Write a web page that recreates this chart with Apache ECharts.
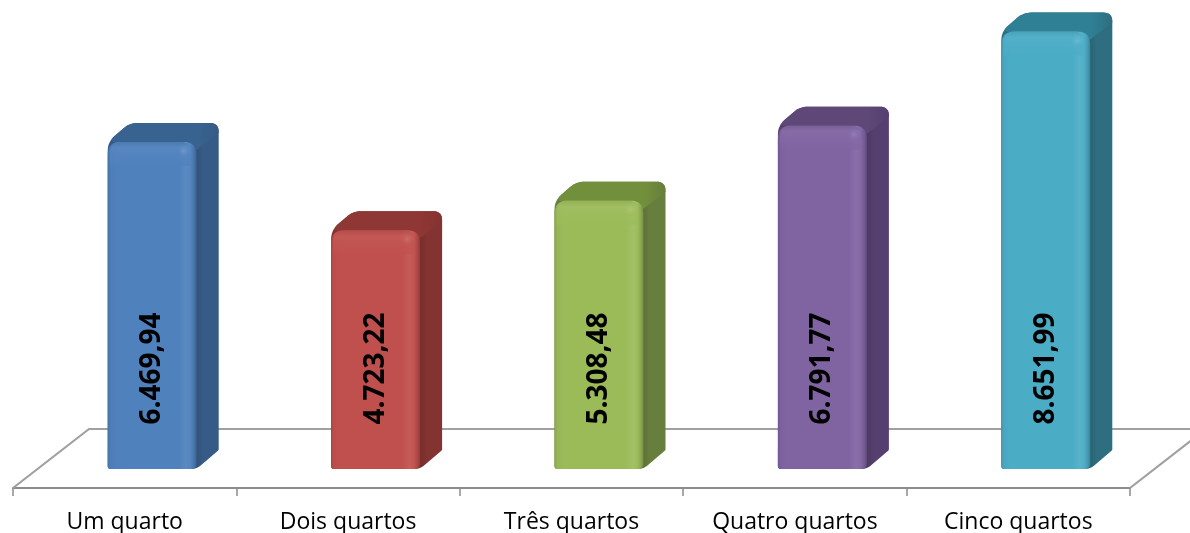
<!DOCTYPE html>
<html><head><meta charset="utf-8">
<style>html,body{margin:0;padding:0;background:#fff}#c{width:1190px;height:533px}</style>
<script src="https://cdn.jsdelivr.net/npm/echarts@6/dist/echarts.min.js"></script>
</head><body><div id="c"></div>
<script>
var categories = ['Um quarto','Dois quartos','Três quartos','Quatro quartos','Cinco quartos'];
var values = [6469.94,4723.22,5308.48,6791.77,8651.99];
var frontColors = ['#4f81bd','#c0504d','#9bbb59','#8064a2','#4bacc6'];
var sideColors = ['#375b87','#833331','#687e3d','#553f6e','#2f6e80'];
var topColors = ['#38628f','#8f3735','#72903b','#5e4878','#2f7f95'];
var fontName = '"Open Sans", Lato, sans-serif';

function mix(hex, other, t){
  var a = echarts.color.parse(hex), b = echarts.color.parse(other);
  return 'rgb(' + [0,1,2].map(function(i){return Math.round(a[i]+(b[i]-a[i])*t);}).join(',') + ')';
}
function mixA(hex, other, t, alpha){
  var a = echarts.color.parse(hex), b = echarts.color.parse(other);
  return 'rgba(' + [0,1,2].map(function(i){return Math.round(a[i]+(b[i]-a[i])*t);}).join(',') + ',' + alpha + ')';
}
function fmt(v){
  var p = v.toFixed(2).split('.');
  return p[0].replace(/\B(?=(\d{3})+$)/g,'.') + ',' + p[1];
}
function rounded(vs){
  var out = [], n = vs.length;
  for (var i=0;i<n;i++){
    var p=vs[i], a=vs[(i+n-1)%n], b=vs[(i+1)%n], r=p[2]||0;
    if(!r){out.push([p[0],p[1]]);continue;}
    var la=Math.hypot(a[0]-p[0],a[1]-p[1]), lb=Math.hypot(b[0]-p[0],b[1]-p[1]);
    var s=[p[0]+(a[0]-p[0])*r/la,p[1]+(a[1]-p[1])*r/la], e=[p[0]+(b[0]-p[0])*r/lb,p[1]+(b[1]-p[1])*r/lb];
    for(var k=0;k<=8;k++){var t=k/8,u=1-t;
      out.push([u*u*s[0]+2*u*t*p[0]+t*t*e[0],u*u*s[1]+2*u*t*p[1]+t*t*e[1]]);}
  }
  return out;
}
var DX=22, DY=19, BARW=89, OFFSET=27.5, LABEL_VALUE=1990, TOPBEVEL=24;

function renderBar(params, api){
  var i = params.dataIndex;
  var c = api.coord([i, api.value(1)]);
  var base = api.coord([i, 0]);
  var x0 = c[0]+OFFSET-BARW/2, x1 = x0+BARW, yt = c[1], yb = base[1];
  var f=frontColors[i], s=sideColors[i], tp=topColors[i];
  var body = rounded([[x0,yt,9],[x0+DX,yt-DY,8],[x1+DX,yt-DY,9],[x1+DX,yb-DY,1],[x1,yb,6],[x0,yb,3]]);
  var split = BARW/(BARW+DX);
  var sideGrad = {type:'linear',x:0,y:0,x2:1,y2:0,colorStops:[
    {offset:0,color:s},{offset:split,color:mix(s,'#000000',0.1)},{offset:split+0.06,color:s},{offset:1,color:s}]};
  var topFace = rounded([[x0,yt,9],[x0+DX,yt-DY,8],[x1+DX,yt-DY,9],[x1+DX,yt-DY+10],[x1,yt+8]]);
  var topGrad = {type:'linear',x:0,y:0,x2:1,y2:0,colorStops:[
    {offset:0,color:tp},{offset:0.8,color:tp},{offset:1,color:s}]};
  var front = rounded([[x0,yt,13],[x1,yt,13],[x1,yb,6],[x0,yb,3]]);
  var frontGrad = {type:'linear',x:0,y:0,x2:1,y2:0,colorStops:[
    {offset:0,color:mix(f,'#000000',0.12)},{offset:0.03,color:mix(f,'#000000',0.03)},
    {offset:0.1,color:f},{offset:0.8,color:f},{offset:0.88,color:mix(f,'#ffffff',0.07)},
    {offset:0.93,color:mix(f,'#ffffff',0.03)},{offset:0.97,color:mix(f,'#000000',0.1)},{offset:1,color:mix(f,'#000000',0.25)}]};
  var bevelGrad = {type:'linear',x:0,y:0,x2:0,y2:1,colorStops:[
    {offset:0,color:mix(f,'#000000',0.08)},{offset:0.25,color:mix(f,'#ffffff',0.07)},
    {offset:0.5,color:mix(f,'#ffffff',0.03)},{offset:1,color:f}]};
  return {type:'group',children:[
    {type:'polygon',shape:{points:body},style:{fill:sideGrad}},
    {type:'polygon',shape:{points:topFace},style:{fill:topGrad}},
    {type:'polygon',shape:{points:front},style:{fill:frontGrad}},
    {type:'polygon',shape:{points:rounded([[x0+2,yt,13],[x1-6,yt,11],[x1-6,yt+TOPBEVEL],[x0+2,yt+TOPBEVEL]])},style:{fill:bevelGrad,opacity:0.7}},
    {type:'circle',shape:{cx:x1-13,cy:yt+9,r:7},style:{fill:{type:'radial',x:0.5,y:0.5,r:0.5,colorStops:[
      {offset:0,color:mixA(f,'#ffffff',0.18,0.9)},{offset:1,color:mixA(f,'#ffffff',0.05,0)}]}}},
    {type:'text',x:x0+BARW/2,y:api.coord([i,LABEL_VALUE])[1],rotation:Math.PI/2,
      style:{text:fmt(api.value(1)),font:'bold 28px '+fontName,fill:'#000',align:'center',verticalAlign:'middle'}}
  ]};
}
function renderFloor(params){
  var cs=params.coordSys, l=cs.x, r=cs.x+cs.width, b=cs.y+cs.height, depthX=76, depthY=59;
  var st={stroke:'#a0a0a0',lineWidth:2.2,fill:null};
  return {type:'group',children:[
    {type:'polyline',shape:{points:[[l,b],[l+depthX,b-depthY],[r+depthX,b-depthY]]},style:st},
    {type:'line',shape:{x1:r,y1:b,x2:r+depthX,y2:b-depthY},style:st}
  ]};
}
var chart = echarts.init(document.getElementById('c'),null,{renderer:'canvas'});
chart.setOption({
  animation:false,
  backgroundColor:'#fff',
  grid:{left:13,right:60,top:14,bottom:45,containLabel:false,outerBoundsMode:'none'},
  xAxis:{type:'category',data:categories,
    axisLine:{show:true,onZero:false,lineStyle:{color:'#8c8c8c',width:2}},
    axisTick:{show:true,length:8,alignWithLabel:false,lineStyle:{color:'#8c8c8c',width:1.5}},
    axisLabel:{color:'#000',fontFamily:fontName,fontSize:23,margin:23,interval:0},
    splitLine:{show:false}},
  yAxis:{type:'value',min:-375,max:9000,show:false,splitLine:{show:false}},
  series:[
    {type:'custom',clip:false,silent:true,z:1,data:[[0,0]],renderItem:renderFloor},
    {type:'custom',clip:false,z:2,data:values.map(function(v,i){return [i,v];}),encode:{x:0,y:1},renderItem:renderBar}
  ]
});
</script></body></html>
